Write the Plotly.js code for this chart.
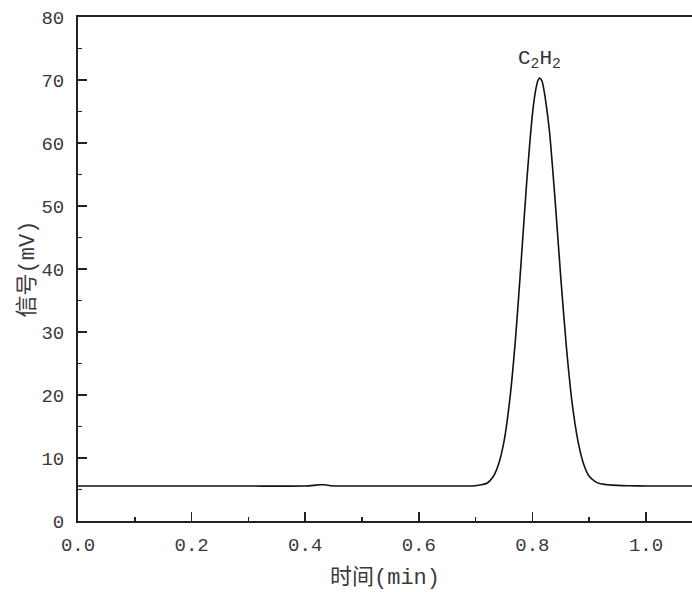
<!DOCTYPE html>
<html>
<head>
<meta charset="utf-8">
<script src="https://cdn.plot.ly/plotly-3.0.1.min.js"></script>
<style>html,body{margin:0;padding:0;background:#fff;}#chart{width:692px;height:592px;}</style>
</head>
<body>
<div id="chart"></div>
<script>
// Retention time (min) and detector signal (mV)
const timeMin = [0.00, 0.10, 0.20, 0.30, 0.40, 0.415, 0.425, 0.435, 0.445, 0.50, 0.60, 0.68, 0.70, 0.71, 0.72, 0.73, 0.74, 0.75, 0.76, 0.77, 0.78, 0.79, 0.80, 0.805, 0.81, 0.813, 0.817, 0.82, 0.83, 0.84, 0.85, 0.86, 0.87, 0.88, 0.89, 0.90, 0.91, 0.92, 0.94, 0.97, 1.00, 1.081];
const signalMv = [5.55, 5.55, 5.55, 5.55, 5.55, 5.65, 5.75, 5.75, 5.6, 5.55, 5.55, 5.55, 5.6, 5.75, 6.0, 6.9, 8.9, 12.6, 19.1, 28.6, 40.9, 53.8, 64.5, 68.0, 70.0, 70.3, 69.8, 68.6, 61.9, 50.9, 38.6, 27.5, 18.7, 12.8, 9.1, 7.1, 6.3, 5.9, 5.7, 5.6, 5.55, 5.55];
const peakLabel = 'C<sub>2</sub>H<sub>2</sub>';
const peakTime = 0.813;
const peakLabelY = 70.9;
const xTitle = '时间(min)';
const yTitle = '信号(mV)';

const fontFam = 'Liberation Mono, Noto Sans CJK SC, monospace';

const trace = {
  x: timeMin, y: signalMv, type: 'scatter', mode: 'lines',
  line: {color: '#111', width: 1.6, shape: 'spline', smoothing: 0.6},
  hoverinfo: 'skip'
};

const layout = {
  width: 692, height: 592,
  margin: {l: 78, r: 0, t: 17, b: 71},
  paper_bgcolor: '#fff', plot_bgcolor: '#fff',
  showlegend: false,
  font: {family: fontFam, color: '#333'},
  xaxis: {
    range: [0, 1.081], dtick: 0.2, tick0: 0, tickformat: '.1f',
    ticks: 'inside', ticklen: 9, tickwidth: 1.5, tickcolor: '#222',
    minor: {dtick: 0.1, ticks: 'inside', ticklen: 4, tickwidth: 1.5, tickcolor: '#222'},
    showline: true, linecolor: '#222', linewidth: 2, mirror: true,
    showgrid: false, zeroline: false,
    tickfont: {family: fontFam, size: 19, color: '#3a3a3a'},
    ticklabelstandoff: 5,
    title: {text: xTitle, font: {family: fontFam, size: 22, color: '#3a3a3a'}, standoff: 13}
  },
  yaxis: {
    range: [0, 80], dtick: 10, tick0: 0,
    ticks: 'inside', ticklen: 9, tickwidth: 1.5, tickcolor: '#222',
    minor: {dtick: 5, ticks: 'inside', ticklen: 4, tickwidth: 1.5, tickcolor: '#222'},
    showline: true, linecolor: '#222', linewidth: 2, mirror: false,
    showgrid: false, zeroline: false,
    tickfont: {family: fontFam, size: 19, color: '#3a3a3a'},
    ticklabelstandoff: 8,
    title: {text: yTitle, font: {family: fontFam, size: 22, color: '#3a3a3a'}, standoff: 1}
  },
  annotations: [{
    x: peakTime, y: peakLabelY, xref: 'x', yref: 'y',
    text: peakLabel, showarrow: false, yanchor: 'bottom', xanchor: 'center',
    font: {family: fontFam, size: 21, color: '#333'}
  }]
};

Plotly.newPlot('chart', [trace], layout, {displayModeBar: false, staticPlot: true});
</script>
</body>
</html>
